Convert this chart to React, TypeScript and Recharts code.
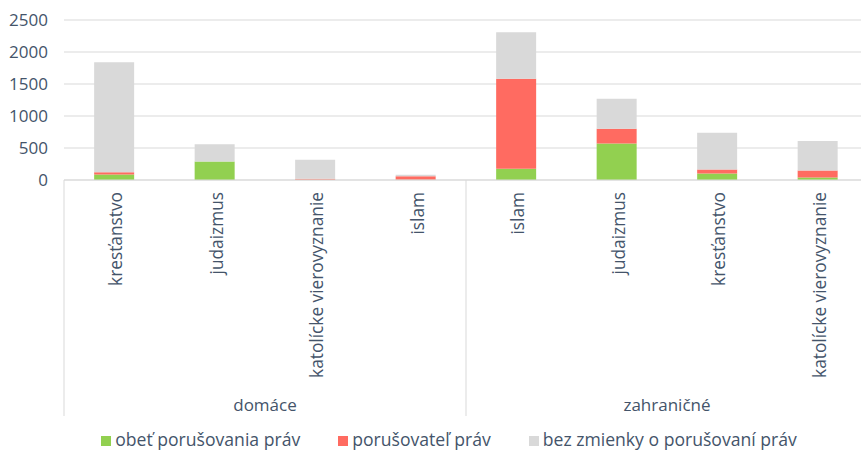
import React from "react";
import {
  BarChart,
  Bar,
  XAxis,
  YAxis,
  CartesianGrid,
  Legend,
} from "recharts";

const categories = [
  "kresťanstvo",
  "judaizmus",
  "katolícke vierovyznanie",
  "islam",
  "islam",
  "judaizmus",
  "kresťanstvo",
  "katolícke vierovyznanie",
];
const groups = ["domáce", "zahraničné"];
const groupOf = [0, 0, 0, 0, 1, 1, 1, 1];

const obet = [86, 288, 3, 5, 174, 569, 100, 40];
const porusovatel = [35, 0, 15, 55, 1407, 233, 64, 108];
const bezZmienky = [1720, 270, 297, 21, 727, 467, 576, 463];

const yTicks = [0, 500, 1000, 1500, 2000, 2500];

const SERIES = [
  { key: "obet", name: "obeť porušovania práv", color: "#92D050" },
  { key: "porusovatel", name: "porušovateľ práv", color: "#FF6B61" },
  { key: "bez", name: "bez zmienky o porušovaní práv", color: "#D9D9D9" },
];

const TEXT = "#44546A";
const LINE = "#D9D9D9";
const FONT = "'Open Sans', sans-serif";

const data = categories.map((c, i) => ({
  id: `${i}-${c}`,
  name: c,
  group: groups[groupOf[i]],
  obet: obet[i],
  porusovatel: porusovatel[i],
  bez: bezZmienky[i],
}));

const AXIS_H = 236;

function CategoryTick(props: any) {
  const { x, y, payload, index } = props;
  const half = payload?.offset ?? 50.2;
  const label = categories[index];
  const first = index === 0 || groupOf[index] !== groupOf[index - 1];
  const last = index === categories.length - 1;
  return (
    <g>
      <text
        x={x + 8}
        y={y + 12}
        transform={`rotate(-90, ${x + 8}, ${y + 12})`}
        textAnchor="end"
        fill={TEXT}
        fontSize={17.3}
        fontFamily={FONT}
      >
        {label}
      </text>
      {first && (
        <line x1={x - half} x2={x - half} y1={y} y2={y + AXIS_H} stroke={LINE} strokeWidth={1} />
      )}
      {last && (
        <line x1={x + half} x2={x + half} y1={y} y2={y + AXIS_H} stroke={LINE} strokeWidth={1} />
      )}
      {first && (
        <text
          x={x - half + half * 4}
          y={y + 231}
          textAnchor="middle"
          fill={TEXT}
          fontSize={17}
          fontFamily={FONT}
        >
          {groups[groupOf[index]]}
        </text>
      )}
    </g>
  );
}

function LegendContent() {
  return (
    <div
      style={{
        height: 34,
        width: 898,
        display: "flex",
        justifyContent: "center",
        alignItems: "flex-end",
        gap: 38,
        fontFamily: FONT,
        fontSize: 17.6,
        lineHeight: "22px",
        color: TEXT,
      }}
    >
      {SERIES.map((s) => (
        <span key={s.key} style={{ whiteSpace: "nowrap" }}>
          <span
            style={{
              display: "inline-block",
              width: 10,
              height: 10,
              background: s.color,
              marginRight: 4,
              verticalAlign: "baseline",
            }}
          />
          {s.name}
        </span>
      ))}
    </div>
  );
}

export default function App() {
  return (
    <div
      style={{
        position: "absolute",
        left: 0,
        top: 0,
        width: 861,
        height: 450,
        overflow: "hidden",
        background: "#fff",
      }}
    >
      <BarChart
        width={880}
        height={450}
        data={data}
        margin={{ top: 20, right: 12, bottom: 0, left: 0 }}
        barCategoryGap="30%"
        style={{ fontFamily: FONT }}
      >
        <CartesianGrid vertical={false} stroke={LINE} strokeWidth={1.2} />
        <XAxis
          dataKey="id"
          interval={0}
          height={AXIS_H}
          tickLine={false}
          tickSize={0}
          tickMargin={0}
          axisLine={{ stroke: LINE, strokeWidth: 1.2 }}
          tick={CategoryTick}
        />
        <YAxis
          width={64}
          domain={[0, 2500]}
          ticks={yTicks}
          axisLine={false}
          tickLine={false}
          tickMargin={10}
          tick={{ fill: TEXT, fontSize: 17, fontFamily: FONT }}
        />
        <Legend
          verticalAlign="bottom"
          wrapperStyle={{ left: 0, width: 898 }}
          content={LegendContent}
        />
        {SERIES.map((s) => (
          <Bar
            key={s.key}
            dataKey={s.key}
            name={s.name}
            stackId="a"
            fill={s.color}
            isAnimationActive={false}
          />
        ))}
      </BarChart>
    </div>
  );
}
